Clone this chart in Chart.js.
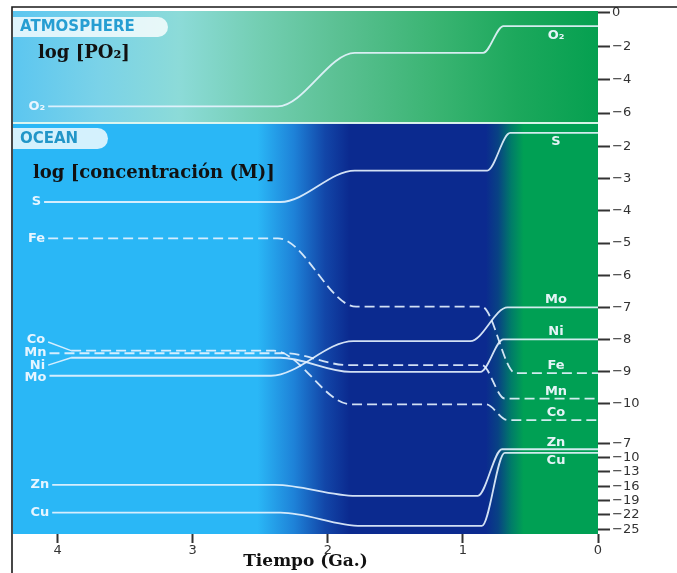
<!DOCTYPE html>
<html>
<head>
<meta charset="utf-8">
<script src="https://cdn.jsdelivr.net/npm/chart.js@4.4.1/dist/chart.umd.min.js"></script>
<style>
  html, body { margin: 0; padding: 0; background: #fff; }
  #wrap { position: relative; width: 677px; height: 573px; }
</style>
</head>
<body>
<div id="wrap"><canvas id="c" width="677" height="573"></canvas></div>
<script>
// ---- axis ticks ----
const timeTicks = [4, 3, 2, 1, 0];                       // Ga before present
const atmTicks = [0, -2, -4, -6];                        // log pO2
const oceanTicks = [-2, -3, -4, -5, -6, -7, -8, -9, -10]; // log [M], main elements
const traceTicks = [-7, -10, -13, -16, -19, -22, -25];   // log [M], Zn and Cu

// ---- atmosphere ----
const tO2 = [4.07, 2.37, 1.80, 0.85, 0.70, 0];
const logO2 = [-5.6, -5.6, -2.4, -2.4, -0.8, -0.8];

// ---- ocean ----
const tS = [4.10, 2.35, 1.80, 0.82, 0.65, 0];
const logS = [-3.72, -3.72, -2.74, -2.74, -1.57, -1.57];
const tFe = [4.07, 2.37, 1.79, 0.86, 0.61, 0];
const logFe = [-4.85, -4.85, -6.98, -6.98, -9.05, -9.05];
const tCo = [3.90, 2.40, 1.83, 0.83, 0.67, 0];
const logCo = [-8.35, -8.35, -10.02, -10.02, -10.51, -10.51];
const tMn = [4.06, 2.32, 1.85, 0.86, 0.69, 0];
const logMn = [-8.43, -8.43, -8.80, -8.80, -9.84, -9.84];
const tNi = [3.90, 2.35, 1.83, 0.87, 0.70, 0];
const logNi = [-8.57, -8.57, -9.01, -9.01, -8.0, -8.0];
const tMo = [4.06, 2.42, 1.81, 0.945, 0.67, 0];
const logMo = [-9.13, -9.13, -8.05, -8.05, -7.0, -7.0];
// short leaders from the Co and Ni names to their curves
const tCoLead = [4.07, 3.90];
const logCoLead = [-8.08, -8.35];
const tNiLead = [4.07, 3.90];
const logNiLead = [-8.80, -8.57];

// ---- trace metals (compressed scale) ----
const tZn = [4.04, 2.39, 1.79, 0.89, 0.71, 0];
const logZn = [-15.7, -15.7, -18.0, -18.0, -8.25, -8.25];
const tCu = [4.04, 2.35, 1.75, 0.86, 0.69, 0];
const logCu = [-21.5, -21.5, -24.3, -24.3, -9.0, -9.0];

const seriesDefs = [
  { name: 'O\u2082', axis: 'yAtm',   t: tO2, v: logO2 },
  { name: 'S',       axis: 'yOcean', t: tS,  v: logS },
  { name: 'Fe',      axis: 'yOcean', t: tFe, v: logFe, dashed: true },
  { name: 'Co',      axis: 'yOcean', t: tCo, v: logCo, dashed: true, lead: [tCoLead, logCoLead] },
  { name: 'Mn',      axis: 'yOcean', t: tMn, v: logMn, dashed: true },
  { name: 'Ni',      axis: 'yOcean', t: tNi, v: logNi, lead: [tNiLead, logNiLead] },
  { name: 'Mo',      axis: 'yOcean', t: tMo, v: logMo },
  { name: 'Zn',      axis: 'yTrace', t: tZn, v: logZn },
  { name: 'Cu',      axis: 'yTrace', t: tCu, v: logCu }
];

// ---- styling ----
const lineColor = 'rgba(232,244,255,0.9)';
const tagFont = 'bold 13px "DejaVu Sans"';
const tickFont = { family: 'DejaVu Sans', size: 13 };
// vertical shift of the names written at the two ends of each curve
const startTagShift = { 'O\u2082': 0, S: 0, Fe: 0, Co: -2, Mn: -1, Ni: 0, Mo: 2, Zn: 0, Cu: 0 };
const endTagShift = { 'O\u2082': 10, S: 9, Fe: -8, Co: -7, Mn: -7, Ni: -8, Mo: -8, Zn: -7, Cu: 8 };

const atmShade = [
  [4.33, 'rgb(92,198,240)'], [3.70, 'rgb(122,210,232)'], [3.10, 'rgb(140,219,216)'],
  [2.50, 'rgb(115,206,178)'], [1.90, 'rgb(90,192,146)'], [1.20, 'rgb(58,180,114)'],
  [0.60, 'rgb(28,168,92)'], [0, 'rgb(5,160,80)']
];
const oceanShade = [
  [4.33, 'rgb(42,183,246)'], [2.52, 'rgb(42,183,246)'], [2.25, 'rgb(30,130,216)'],
  [2.02, 'rgb(18,70,168)'], [1.84, 'rgb(11,42,143)'], [0.83, 'rgb(11,42,143)'],
  [0.74, 'rgb(8,66,132)'], [0.64, 'rgb(0,125,104)'], [0.55, 'rgb(0,160,84)'], [0, 'rgb(0,160,84)']
];

const datasets = [];
seriesDefs.forEach(s => {
  datasets.push({
    label: s.name,
    data: s.t.map((t, i) => ({ x: t, y: s.v[i] })),
    xAxisID: 'x', yAxisID: s.axis,
    borderColor: lineColor, borderWidth: 1.8,
    borderDash: s.dashed ? [10, 5] : [],
    pointRadius: 0, cubicInterpolationMode: 'monotone', fill: false
  });
  if (s.lead) {
    datasets.push({
      label: s.name + ' leader',
      data: s.lead[0].map((t, i) => ({ x: t, y: s.lead[1][i] })),
      xAxisID: 'x', yAxisID: s.axis,
      borderColor: lineColor, borderWidth: 1.4, tension: 0,
      pointRadius: 0, fill: false
    });
  }
});

function minusFmt(v) { return (v < 0 ? '\u2212' : '') + Math.abs(v); }

function yScale(ticks, min, max, weightOrder, share) {
  return {
    type: 'linear', position: 'right', stack: 'panels',
    stackWeight: share, weight: weightOrder,
    min: min, max: max,
    afterBuildTicks: s => { s.ticks = ticks.map(v => ({ value: v })); },
    afterFit: s => { s.width = 79; },
    grid: { drawOnChartArea: false, tickLength: 12, tickWidth: 2, tickColor: '#333' },
    border: { display: false },
    ticks: { font: tickFont, color: '#333', padding: 2, autoSkip: false, callback: minusFmt }
  };
}

function shadeGradient(ctx, xs, area, stops) {
  const g = ctx.createLinearGradient(area.left, 0, area.right, 0);
  stops.forEach(([t, c]) => {
    let f = (xs.getPixelForValue(t) - area.left) / (area.right - area.left);
    g.addColorStop(Math.min(1, Math.max(0, f)), c);
  });
  return g;
}

function pill(ctx, x, y, w, h) {
  ctx.beginPath();
  ctx.moveTo(x, y);
  ctx.lineTo(x + w - h / 2, y);
  ctx.arc(x + w - h / 2, y + h / 2, h / 2, -Math.PI / 2, Math.PI / 2);
  ctx.lineTo(x, y + h);
  ctx.closePath();
  ctx.fill();
}

const panelPlugin = {
  id: 'panels',
  beforeDatasetsDraw(chart) {
    const { ctx, chartArea: a, scales } = chart;
    const xs = scales.x, ya = scales.yAtm, yo = scales.yOcean, yt = scales.yTrace;
    ctx.save();
    ctx.fillStyle = shadeGradient(ctx, xs, a, atmShade);
    ctx.fillRect(a.left, ya.top, a.right - a.left, ya.bottom - ya.top);
    ctx.fillStyle = shadeGradient(ctx, xs, a, oceanShade);
    ctx.fillRect(a.left, yo.top, a.right - a.left, yt.bottom - yo.top);
    // separator between the two panels
    ctx.strokeStyle = 'rgba(225,248,240,0.95)';
    ctx.lineWidth = 2;
    ctx.beginPath();
    ctx.moveTo(a.left, ya.bottom);
    ctx.lineTo(a.right, ya.bottom);
    ctx.stroke();

    // panel captions
    ctx.fillStyle = 'rgba(255,255,255,0.8)';
    pill(ctx, a.left, ya.top + 6, 155, 20);
    pill(ctx, a.left, yo.top + 5, 95, 21);
    ctx.font = 'bold 15px "DejaVu Sans"';
    ctx.textBaseline = 'middle';
    ctx.textAlign = 'left';
    ctx.fillStyle = 'rgb(38,158,210)';
    ctx.fillText('ATMOSPHERE', a.left + 7, ya.top + 16.5);
    ctx.fillStyle = 'rgb(34,150,200)';
    ctx.fillText('OCEAN', a.left + 7, yo.top + 16);
    ctx.fillStyle = '#111';
    ctx.font = 'bold 18px "DejaVu Serif"';
    ctx.fillText('log [PO\u2082]', a.left + 25, ya.top + 42);
    ctx.fillText('log [concentraci\u00f3n (M)]', a.left + 20, yo.top + 50);
    ctx.restore();
  },
  afterDatasetsDraw(chart) {
    const { ctx, chartArea: a, scales } = chart;
    const xs = scales.x;
    ctx.save();
    ctx.font = tagFont;
    ctx.fillStyle = 'rgba(240,248,255,0.95)';
    ctx.textBaseline = 'middle';
    seriesDefs.forEach(s => {
      const ys = scales[s.axis];
      const t0 = s.lead ? s.lead[0][0] : s.t[0];
      const v0 = s.lead ? s.lead[1][0] : s.v[0];
      ctx.textAlign = 'right';
      ctx.fillText(s.name, xs.getPixelForValue(t0) - 3, ys.getPixelForValue(v0) + startTagShift[s.name]);
      ctx.textAlign = 'center';
      const vEnd = s.v[s.v.length - 1];
      ctx.fillText(s.name, a.right - 42, ys.getPixelForValue(vEnd) + endTagShift[s.name]);
    });
    ctx.restore();
  },
  afterDraw(chart) {
    const { ctx, chartArea: a } = chart;
    ctx.save();
    ctx.strokeStyle = '#1a1a1a';
    ctx.lineWidth = 1.6;
    ctx.beginPath();
    ctx.moveTo(a.left - 1, chart.height);
    ctx.lineTo(a.left - 1, a.top - 4);
    ctx.lineTo(chart.width, a.top - 4);
    ctx.stroke();
    ctx.restore();
  }
};

new Chart(document.getElementById('c'), {
  type: 'line',
  data: { datasets },
  options: {
    responsive: false,
    animation: false,
    layout: { padding: { left: 13, top: 11, right: 0, bottom: 0 } },
    plugins: { legend: { display: false }, tooltip: { enabled: false } },
    scales: {
      x: {
        type: 'linear', position: 'bottom', reverse: true, min: 0, max: 4.33,
        afterBuildTicks: s => { s.ticks = timeTicks.map(v => ({ value: v })); },
        afterFit: s => { s.height = 39; },
        grid: { drawOnChartArea: false, tickLength: 9, tickWidth: 2, tickColor: '#333' },
        border: { display: false },
        ticks: { font: tickFont, color: '#333', padding: 0, autoSkip: false },
        title: {
          display: true, text: 'Tiempo (Ga.)', color: '#111',
          font: { family: 'DejaVu Serif', weight: 'bold', size: 17 },
          padding: { top: 0, bottom: 1 }
        }
      },
      yAtm: yScale(atmTicks, -6.59, 0.1, 1, 112),
      yOcean: yScale(oceanTicks, -10.82, -1.26, 2, 307),
      yTrace: yScale(traceTicks, -25.98, -4.22, 3, 104)
    }
  },
  plugins: [panelPlugin]
});
</script>
</body>
</html>
